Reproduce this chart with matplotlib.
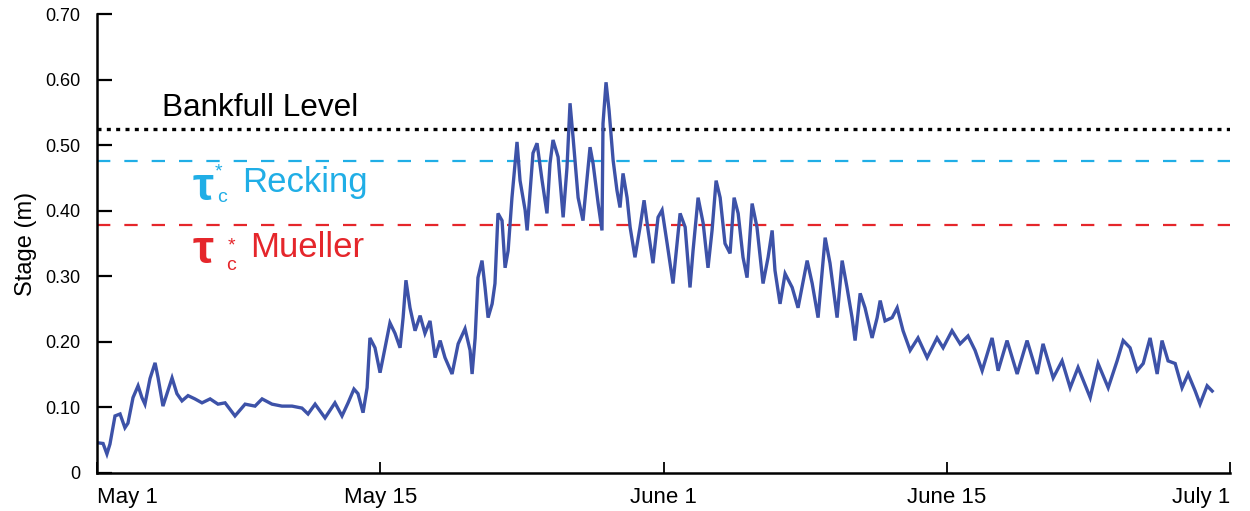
import numpy as np
import matplotlib.pyplot as plt

plt.rcParams['font.family'] = ['Liberation Sans', 'DejaVu Sans']

# stage record, time in days from May 1 (tick spacing of 14 days)
day = [0.05, 0.30, 0.49, 0.64, 0.89, 1.14, 1.38, 1.53, 1.78, 2.03, 2.22, 2.37,
       2.62, 2.87, 3.02, 3.26, 3.46, 3.71, 3.95, 4.20, 4.50, 4.84, 5.19, 5.59,
       5.98, 6.33, 6.82, 7.32, 7.81, 8.16, 8.65, 9.14, 9.64, 10.13, 10.43, 10.78,
       11.27, 11.76, 12.11, 12.41, 12.70, 12.90, 13.15, 13.35, 13.49, 13.74, 13.99,
       14.14, 14.48, 14.73, 14.98, 15.13, 15.27, 15.47, 15.72, 15.97, 16.21, 16.46,
       16.71, 16.96, 17.20, 17.55, 17.85, 18.19, 18.44, 18.54, 18.69, 18.83, 19.03,
       19.18, 19.33, 19.53, 19.67, 19.82, 20.02, 20.17, 20.32, 20.51, 20.76, 20.91,
       21.16, 21.26, 21.55, 21.75, 22.00, 22.24, 22.39, 22.54, 22.79, 23.04, 23.23,
       23.38, 23.53, 23.78, 24.02, 24.37, 24.52, 24.77, 24.96, 25.01, 25.16, 25.31,
       25.51, 25.70, 25.85, 26.00, 26.20, 26.35, 26.59, 26.84, 27.04, 27.24, 27.48,
       27.73, 27.93, 28.18, 28.47, 28.82, 29.07, 29.31, 29.46, 29.71, 29.96, 30.20,
       30.40, 30.60, 30.80, 31.04, 31.29, 31.49, 31.69, 31.93, 32.13, 32.38, 32.62,
       32.92, 33.17, 33.37, 33.51, 33.76, 34.01, 34.36, 34.65, 35.10, 35.35, 35.64,
       35.99, 36.23, 36.58, 36.83, 37.07, 37.32, 37.47, 37.72, 37.96, 38.31, 38.56,
       38.71, 38.95, 39.30, 39.55, 39.84, 40.19, 40.58, 41.03, 41.52, 41.82, 42.26,
       42.66, 43.05, 43.40, 43.75, 44.24, 44.54, 44.98, 45.48, 45.97, 46.47, 46.76,
       47.26, 47.70, 48.10, 48.49, 49.09, 49.48, 49.98, 50.42, 50.72, 51.06, 51.41,
       51.71, 52.05, 52.40, 52.64, 52.94, 53.29, 53.63, 53.93, 54.28, 54.52, 54.87,
       55.12]
stage = [0.046, 0.045, 0.029, 0.044, 0.087, 0.090, 0.069, 0.076, 0.115, 0.133, 0.115, 0.105,
         0.144, 0.168, 0.145, 0.102, 0.121, 0.145, 0.121, 0.110, 0.118, 0.113, 0.107, 0.113,
         0.105, 0.107, 0.087, 0.105, 0.102, 0.113, 0.105, 0.102, 0.102, 0.099, 0.090, 0.105,
         0.084, 0.107, 0.087, 0.107, 0.128, 0.121, 0.092, 0.130, 0.206, 0.191, 0.153,
         0.176, 0.229, 0.213, 0.191, 0.237, 0.294, 0.252, 0.217, 0.240, 0.213, 0.232,
         0.176, 0.202, 0.176, 0.151, 0.197, 0.220, 0.187, 0.151, 0.206, 0.298, 0.324,
         0.283, 0.237, 0.258, 0.289, 0.396, 0.385, 0.313, 0.339, 0.420, 0.505, 0.446,
         0.401, 0.370, 0.488, 0.503, 0.446, 0.396, 0.472, 0.508, 0.482, 0.390, 0.466,
         0.564, 0.512, 0.420, 0.385, 0.497, 0.472, 0.411, 0.370, 0.533, 0.596, 0.553,
         0.477, 0.431, 0.405, 0.457, 0.420, 0.375, 0.329, 0.375, 0.416, 0.370, 0.320,
         0.390, 0.401, 0.350, 0.289, 0.396, 0.375, 0.283, 0.339, 0.420, 0.381, 0.313,
         0.370, 0.446, 0.420, 0.350, 0.335, 0.420, 0.396, 0.329, 0.298, 0.411, 0.375,
         0.289, 0.329, 0.370, 0.309, 0.258, 0.304, 0.283, 0.252, 0.324, 0.289, 0.237,
         0.359, 0.320, 0.237, 0.324, 0.283, 0.237, 0.202, 0.274, 0.252, 0.206, 0.237,
         0.263, 0.232, 0.237, 0.252, 0.217, 0.187, 0.206, 0.176, 0.206, 0.191, 0.217,
         0.197, 0.209, 0.187, 0.156, 0.206, 0.156, 0.202, 0.151, 0.202, 0.151, 0.197,
         0.145, 0.171, 0.130, 0.161, 0.115, 0.167, 0.130, 0.171, 0.202, 0.191, 0.156,
         0.167, 0.206, 0.151, 0.202, 0.171, 0.167, 0.130, 0.151, 0.125, 0.105, 0.133,
         0.125]

bankfull = 0.525
recking = 0.476
mueller = 0.378

tick_days = [0, 14, 28, 42, 56]
tick_names = ["May 1", "May 15", "June 1", "June 15", "July 1"]
y_ticks = [0, 0.1, 0.2, 0.3, 0.4, 0.5, 0.6, 0.7]
y_names = ["0", "0.10", "0.20", "0.30", "0.40", "0.50", "0.60", "0.70"]

blue = '#20aee6'
red = '#e5262b'

fig = plt.figure(figsize=(12.5, 5.11), dpi=100)
ax = fig.add_axes([0.0776, 0.0744, 0.9064, 0.898])

ax.axhline(bankfull, color='black', lw=2.4, linestyle=(0, (1.2, 1.6)), zorder=1)
ax.axhline(recking, color=blue, lw=1.6, linestyle=(0, (6, 6.3)), zorder=1)
ax.axhline(mueller, color=red, lw=1.6, linestyle=(0, (6, 6.3)), zorder=1)

ax.plot(day, stage, color='#3d52a8', lw=2.4, solid_joinstyle='miter', zorder=2)

ax.text(3.2, 0.545, "Bankfull Level", fontsize=22.7, color='black')

# tau*_c labels built from pieces: big tau, small star and c
ax.text(4.70, 0.416, "τ", fontsize=34, color=blue, fontweight='bold')
ax.text(5.80, 0.472, "*", fontsize=14, color=blue, va='top')
ax.text(5.93, 0.413, "c", fontsize=14, color=blue)
ax.text(7.17, 0.428, "Recking", fontsize=25, color=blue)

ax.text(4.70, 0.321, "τ", fontsize=34, color=red, fontweight='bold')
ax.text(6.45, 0.359, "*", fontsize=14, color=red, va='top')
ax.text(6.40, 0.310, "c", fontsize=14, color=red)
ax.text(7.56, 0.329, "Mueller", fontsize=25, color=red)

ax.set_xlim(0, 56)
ax.set_ylim(0, 0.70)
ax.set_xticks(tick_days)
ax.set_xticklabels(tick_names, fontsize=16)
xl = ax.get_xticklabels()
xl[0].set_ha('left')
xl[-1].set_ha('right')
ax.set_yticks(y_ticks)
ax.set_yticklabels(y_names, fontsize=13)
ax.tick_params(axis='y', direction='in', length=11, width=1.6, pad=12)
ax.tick_params(axis='x', direction='in', length=8, width=1.3, pad=10)
ax.set_ylabel("Stage (m)", fontsize=17, labelpad=6)

for side in ['top', 'right']:
    ax.spines[side].set_visible(False)
for side in ['left', 'bottom']:
    ax.spines[side].set_linewidth(1.8)

plt.savefig("out.png", dpi=100)
